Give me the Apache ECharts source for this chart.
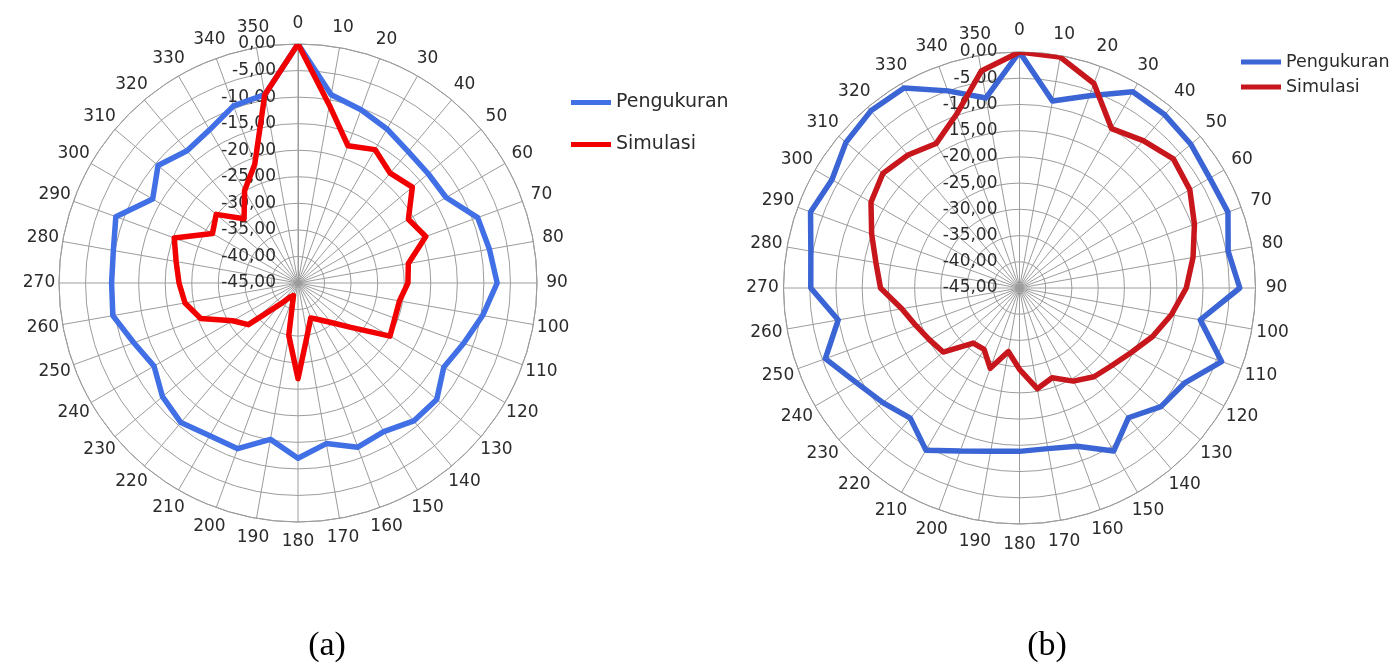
<!DOCTYPE html>
<html><head><meta charset="utf-8">
<script src="https://cdn.jsdelivr.net/npm/echarts@6/dist/echarts.min.js"></script>
<style>html,body{margin:0;padding:0;background:#fff}#c{width:1395px;height:666px}</style>
</head><body><div id="c"></div>
<script>
// ---- data ----
const angleLabels = ['0','10','20','30','40','50','60','70','80','90','100','110','120','130','140','150','160','170',
  '180','190','200','210','220','230','240','250','260','270','280','290','300','310','320','330','340','350'];
const angles = [0,10,20,30,40,50,60,70,80,90,100,110,120,130,140,150,160,170,
  180,190,200,210,220,230,240,250,260,270,280,290,300,310,320,330,340,350];
const seriesNames = ['Pengukuran','Simulasi'];
const captions = ['(a)','(b)'];
// chart (a)
const aPengukuran = [0,-9,-10.3,-11.5,-12.7,-13,-12.8,-9,-8.4,-7.5,-9.7,-11.8,-13.3,-10.9,-11.1,-12.7,-12.1,-14.3,
  -12,-15.1,-11.8,-11.8,-10.7,-11.7,-13.7,-12.1,-9.6,-9.9,-9.7,-8.5,-13.4,-10.6,-12.5,-11.7,-9.5,-9];
const aSimulasi = [0,-11,-17.5,-16,-18,-16.9,-21,-19.4,-23.9,-24.3,-25.6,-25.6,-25,-32,-35.3,-37,-38,-35,
  -27,-35,-42.5,-41.9,-39.8,-32.8,-30.8,-25.5,-23.4,-22.6,-21.7,-20.2,-26.4,-24.9,-29.2,-24.9,-21.2,-9];
// chart (b)
const bPengukuran = [0,-8.8,-6,-1.8,-1.9,-2.35,-3.1,-2.7,-4.6,-3,-10,-4,-8.7,-9.8,-12.7,-9.1,-12.9,-13.9,
  -13.85,-13.4,-11.9,-9.3,-12.6,-11,-9,-5.6,-9.9,-5.2,-4.6,-2.6,-3.7,-1.8,-0.9,-0.95,-5,-8.2];
const bSimulasi = [0,-0.3,-3.5,-9.9,-8.3,-6.7,-7.5,-9.5,-11.4,-13.2,-15.6,-18,-20.4,-22,-22.9,-24.5,-26.8,-25.5,
  -29.5,-32.7,-28.7,-31.5,-31.3,-26,-25.2,-24,-22.2,-18.5,-17.2,-15,-12.3,-11,-11.9,-13.2,-9.8,-3];
const radiusMin = -45, radiusMax = 0, radiusStep = 5;

// ---- styles ----
const GRID = '#9c9c9c';
const TXT = '#2b2b2b';
const colorsA = ['#416FE6', '#F20000'];
const colorsB = ['#3B64D4', '#C8161D'];
const FONT = 'DejaVu Sans';

function closed(vals) {
  const d = angles.map((a, i) => [vals[i], a]);
  d.push([vals[0], 360]);
  return d;
}
function angleAxis(idx, show) {
  return {
    polarIndex: idx, type: 'value', min: 0, max: 360, interval: 10, startAngle: 90, clockwise: true,
    show: show,
    axisLine: { show: show, lineStyle: { color: GRID, width: 1 } },
    axisTick: { show: false },
    splitLine: { show: show, lineStyle: { color: GRID, width: 1 } },
    axisLabel: { show: false }
  };
}
function radiusAxis(idx) {
  return {
    polarIndex: idx, type: 'value', min: radiusMin, max: radiusMax, interval: radiusStep,
    axisLine: { show: true, lineStyle: { color: GRID, width: 1 } },
    axisTick: { show: false },
    splitLine: { show: true, lineStyle: { color: GRID, width: 1 } },
    axisLabel: {
      margin: 22, color: TXT, fontSize: 17, fontFamily: FONT,
      formatter: v => v.toFixed(2).replace('.', ',')
    }
  };
}
function labelRadiusAxis(idx) {
  return { polarIndex: idx, type: 'value', min: 0, max: 1, show: false };
}
function lineSeries(name, vals, idx, color) {
  return {
    name, type: 'line', coordinateSystem: 'polar', polarIndex: idx, data: closed(vals),
    showSymbol: false, symbol: 'none', smooth: false, animation: false,
    lineStyle: { color, width: 5.5, join: 'round' }, itemStyle: { color }
  };
}
function angleLabelSeries(idx) {
  return {
    type: 'scatter', coordinateSystem: 'polar', polarIndex: idx, silent: true, animation: false,
    symbolSize: 0, itemStyle: { color: TXT, opacity: 1 },
    data: angles.map(a => [1, a]),
    label: {
      show: true, position: 'inside', color: TXT, opacity: 1, fontSize: 17, fontFamily: FONT,
      formatter: p => angleLabels[p.dataIndex]
    }
  };
}
function legend(left, top, gap, colors, fs) {
  return {
    orient: 'vertical', left, top, itemGap: gap, itemWidth: 40, itemHeight: 5, icon: 'rect',
    selectedMode: false,
    textStyle: { fontSize: fs, fontFamily: FONT, color: TXT },
    data: seriesNames.map((n, i) => ({ name: n, itemStyle: { color: colors[i] } }))
  };
}

const chart = echarts.init(document.getElementById('c'), null, { renderer: 'canvas' });
chart.setOption({
  backgroundColor: '#ffffff',
  animation: false,
  polar: [
    { center: [298, 283], radius: 239 },
    { center: [1019.5, 288], radius: 236 },
    { center: [298, 283], radius: 259 },
    { center: [1019.5, 288], radius: 257 }
  ],
  angleAxis: [angleAxis(0, true), angleAxis(1, true), angleAxis(2, false), angleAxis(3, false)],
  radiusAxis: [radiusAxis(0), radiusAxis(1), labelRadiusAxis(2), labelRadiusAxis(3)],
  legend: [legend(566, 88, 23, colorsA, 19), legend(1236, 48, 7, colorsB, 17.5)],
  series: [
    lineSeries(seriesNames[0], aPengukuran, 0, colorsA[0]),
    lineSeries(seriesNames[1], aSimulasi, 0, colorsA[1]),
    lineSeries(seriesNames[0], bPengukuran, 1, colorsB[0]),
    lineSeries(seriesNames[1], bSimulasi, 1, colorsB[1]),
    angleLabelSeries(2),
    angleLabelSeries(3)
  ],
  graphic: [
    { type: 'text', x: 327, y: 646, style: { text: captions[0], font: '34px "Liberation Serif"', fill: '#000', textAlign: 'center', textVerticalAlign: 'middle' } },
    { type: 'text', x: 1047, y: 646, style: { text: captions[1], font: '34px "Liberation Serif"', fill: '#000', textAlign: 'center', textVerticalAlign: 'middle' } }
  ]
});
</script></body></html>
